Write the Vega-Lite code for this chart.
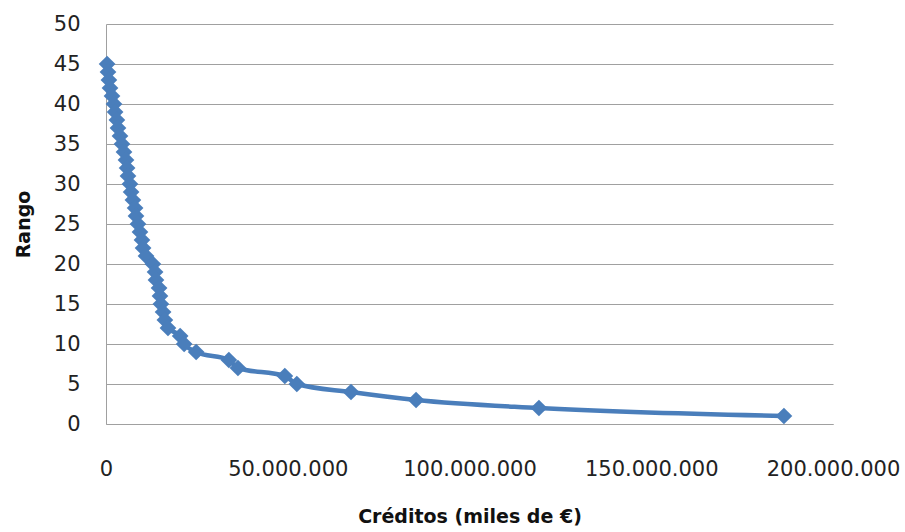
{
  "$schema": "https://vega.github.io/schema/vega-lite/v6.json",
  "autosize": "none",
  "width": 727,
  "height": 400,
  "padding": {"left": 106, "top": 24, "right": 72, "bottom": 108},
  "background": "white",
  "config": {
    "locale": {"number": {"decimal": ",", "thousands": ".", "grouping": [3], "currency": ["", " €"]}},
    "view": {"stroke": null},
    "font": "DejaVu Sans"
  },
  "data": {
    "values": [
      {"rango": 45, "creditos": 300000},
      {"rango": 44, "creditos": 550000},
      {"rango": 43, "creditos": 800000},
      {"rango": 42, "creditos": 1100000},
      {"rango": 41, "creditos": 1650000},
      {"rango": 40, "creditos": 2200000},
      {"rango": 39, "creditos": 2500000},
      {"rango": 38, "creditos": 3000000},
      {"rango": 37, "creditos": 3300000},
      {"rango": 36, "creditos": 3850000},
      {"rango": 35, "creditos": 4400000},
      {"rango": 34, "creditos": 4950000},
      {"rango": 33, "creditos": 5500000},
      {"rango": 32, "creditos": 5800000},
      {"rango": 31, "creditos": 6050000},
      {"rango": 30, "creditos": 6600000},
      {"rango": 29, "creditos": 6900000},
      {"rango": 28, "creditos": 7400000},
      {"rango": 27, "creditos": 8000000},
      {"rango": 26, "creditos": 8250000},
      {"rango": 25, "creditos": 8800000},
      {"rango": 24, "creditos": 9350000},
      {"rango": 23, "creditos": 9900000},
      {"rango": 22, "creditos": 10200000},
      {"rango": 21, "creditos": 11000000},
      {"rango": 20, "creditos": 12900000},
      {"rango": 19, "creditos": 13500000},
      {"rango": 18, "creditos": 13750000},
      {"rango": 17, "creditos": 14600000},
      {"rango": 16, "creditos": 14850000},
      {"rango": 15, "creditos": 15100000},
      {"rango": 14, "creditos": 15700000},
      {"rango": 13, "creditos": 16200000},
      {"rango": 12, "creditos": 17050000},
      {"rango": 11, "creditos": 20400000},
      {"rango": 10, "creditos": 21500000},
      {"rango": 9, "creditos": 24800000},
      {"rango": 8, "creditos": 33800000},
      {"rango": 7, "creditos": 36300000},
      {"rango": 6, "creditos": 49200000},
      {"rango": 5, "creditos": 52500000},
      {"rango": 4, "creditos": 67400000},
      {"rango": 3, "creditos": 85300000},
      {"rango": 2, "creditos": 119100000},
      {"rango": 1, "creditos": 186500000}
    ]
  },
  "encoding": {
    "x": {
      "field": "creditos",
      "type": "quantitative",
      "scale": {"domain": [0, 200000000], "nice": false, "zero": true},
      "axis": {
        "title": "Créditos (miles de €)",
        "values": [0, 50000000, 100000000, 150000000, 200000000],
        "format": ",d",
        "grid": false,
        "ticks": false,
        "domainColor": "#a0a0a0",
        "domainWidth": 1,
        "labelFontSize": 21,
        "labelColor": "#222222",
        "labelPadding": 34,
        "labelFlush": false,
        "titleFontSize": 19,
        "titleFontWeight": "bold",
        "titleColor": "#111111",
        "titlePadding": 28
      }
    },
    "y": {
      "field": "rango",
      "type": "quantitative",
      "scale": {"domain": [0, 50], "nice": false},
      "axis": {
        "title": "Rango",
        "values": [0, 5, 10, 15, 20, 25, 30, 35, 40, 45, 50],
        "grid": true,
        "gridColor": "#a0a0a0",
        "gridWidth": 1,
        "ticks": false,
        "domainColor": "#a0a0a0",
        "domainWidth": 1,
        "labelFontSize": 21,
        "labelColor": "#222222",
        "labelPadding": 26,
        "titleFontSize": 19,
        "titleFontWeight": "bold",
        "titleColor": "#111111",
        "titlePadding": 20
      }
    }
  },
  "layer": [
    {
      "mark": {"type": "line", "color": "#4a7ebb", "strokeWidth": 4.5, "interpolate": "monotone"},
      "encoding": {"order": {"field": "rango", "sort": "descending"}}
    },
    {
      "mark": {"type": "point", "shape": "diamond", "filled": true, "color": "#4a7ebb", "opacity": 1, "size": 280}
    }
  ]
}
